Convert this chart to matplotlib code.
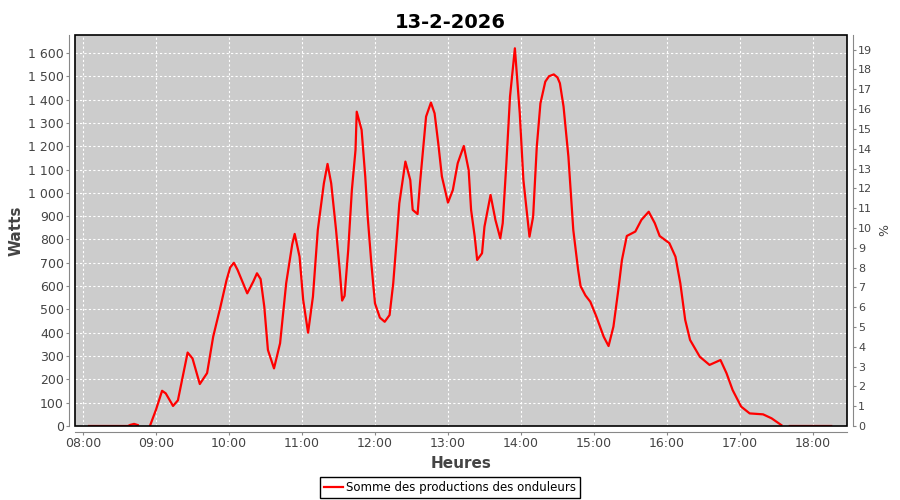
import matplotlib
matplotlib.use('Agg')
import matplotlib.pyplot as plt
import matplotlib.dates as mdates
from matplotlib.patches import Rectangle
from matplotlib.ticker import FuncFormatter, MultipleLocator
import numpy as np
import pandas as pd

# readings of the day (NaN = no data)
times = ['08:05', '08:37', '08:39', '08:42', '08:45', '08:47', '08:55', '09:00',
         '09:05', '09:08', '09:14', '09:18', '09:26', '09:30', '09:36', '09:42',
         '09:47', '09:53', '09:58', '10:01', '10:04', '10:07', '10:15', '10:20',
         '10:23', '10:26', '10:29', '10:32', '10:37', '10:42', '10:47', '10:52',
         '10:54', '10:58', '11:01', '11:05', '11:09', '11:13', '11:18', '11:21',
         '11:24', '11:28', '11:31', '11:33', '11:35', '11:38', '11:41', '11:44',
         '11:45', '11:49', '11:52', '11:54', '11:57', '12:00', '12:04', '12:08',
         '12:12', '12:15', '12:18', '12:20', '12:25', '12:29', '12:31', '12:35',
         '12:37', '12:40', '12:42', '12:46', '12:49', '12:52', '12:55', '13:00',
         '13:04', '13:08', '13:13', '13:17', '13:19', '13:22', '13:24', '13:28',
         '13:30', '13:35', '13:39', '13:43', '13:45', '13:48', '13:51', '13:55',
         '13:59', '14:02', '14:07', '14:10', '14:13', '14:16', '14:20', '14:23',
         '14:27', '14:30', '14:32', '14:35', '14:39', '14:43', '14:47', '14:49',
         '14:53', '14:57', '15:02', '15:08', '15:12', '15:16', '15:20', '15:23',
         '15:27', '15:34', '15:39', '15:45', '15:50', '15:54', '16:02', '16:07',
         '16:11', '16:15', '16:19', '16:27', '16:35', '16:44', '16:49', '16:54',
         '17:01', '17:08', '17:19', '17:26', '17:34', '17:37', '17:41', '18:15']
watts = [0, 0, 5, 9, 4, np.nan, 0, 70,
         151, 140, 86, 110, 315, 290, 180, 227,
         383, 512, 626, 680, 700, 670, 569, 620,
         655, 630, 512, 326, 247, 355, 612, 780,
         824, 726, 540, 400, 555, 841, 1041, 1124,
         1041, 841, 669, 538, 558, 755, 1012, 1184,
         1348, 1270, 1070, 898, 698, 526, 465, 447,
         476, 612, 812, 955, 1134, 1055, 927, 909,
         1041, 1213, 1327, 1387, 1341, 1213, 1070, 958,
         1012, 1127, 1201, 1098, 927, 812, 712, 741,
         855, 991, 884, 805, 870, 1127, 1413, 1620,
         1341, 1055, 812, 898, 1198, 1384, 1477, 1500,
         1508, 1495, 1470, 1370, 1155, 841, 669, 600,
         560, 533, 469, 383, 343, 426, 583, 712,
         815, 834, 884, 919, 870, 815, 784, 726,
         612, 455, 369, 297, 262, 283, 226, 154,
         83, 54, 50, 33, 4, np.nan, 0, 0]

day = '2026-02-13 '
t = pd.to_datetime([day + s for s in times])

plt.rcParams['font.family'] = ['DejaVu Sans']
fig = plt.figure(figsize=(9, 5), dpi=100)
ax = fig.add_axes([75/900, 74/500, 772/900, 391/500])
ax.set_facecolor('#cccccc')

ax.plot(t, watts, color='red', lw=1.6, label='Somme des productions des onduleurs')

ax.set_xlim(pd.Timestamp(day + '07:53:25'), pd.Timestamp(day + '18:28:00'))
ax.set_ylim(0, 1677)
ax.xaxis.set_major_locator(mdates.HourLocator())
ax.xaxis.set_major_formatter(mdates.DateFormatter('%H:%M'))
ax.yaxis.set_major_locator(MultipleLocator(100))
ax.yaxis.set_major_formatter(FuncFormatter(lambda v, p: f'{int(v):,}'.replace(',', ' ')))
ax.grid(True, color='white', ls=(0, (2, 2)), lw=0.8)

for s in ['top', 'right']:
    ax.spines[s].set_visible(False)
for s in ['left', 'bottom']:
    ax.spines[s].set_position(('outward', 4))
    ax.spines[s].set_color('#888888')
ax.tick_params(length=2, color='#888888', labelsize=9, labelcolor='#444444', pad=2)
ax.add_patch(Rectangle((0, 0), 1, 1, transform=ax.transAxes, fill=False,
                       edgecolor='black', lw=1.2, clip_on=False, zorder=5))

ax2 = ax.twinx()
ax2.set_ylim(0, 19.74)
ax2.yaxis.set_major_locator(MultipleLocator(1))
for s in ['top', 'left', 'bottom']:
    ax2.spines[s].set_visible(False)
ax2.spines['right'].set_position(('outward', 4))
ax2.spines['right'].set_color('#888888')
ax2.tick_params(length=2, color='#888888', labelsize=8, labelcolor='#444444', pad=2)
ax2.set_ylabel('%', fontsize=9, color='#444444')

ax.set_ylabel('Watts', fontsize=11, fontweight='bold', color='#444444', labelpad=3)
ax.set_xlabel('Heures', fontsize=11, fontweight='bold', color='#444444', labelpad=4)
fig.suptitle('13-2-2026', fontsize=14, fontweight='bold', y=0.975)

fig.legend(loc='center', bbox_to_anchor=(0.5, 1 - 487.5/500), fontsize=8.5,
           frameon=True, fancybox=False, edgecolor='black', framealpha=1,
           handlelength=1.6, borderpad=0.3, handletextpad=0.3)

fig.savefig('out.png', dpi=100)
